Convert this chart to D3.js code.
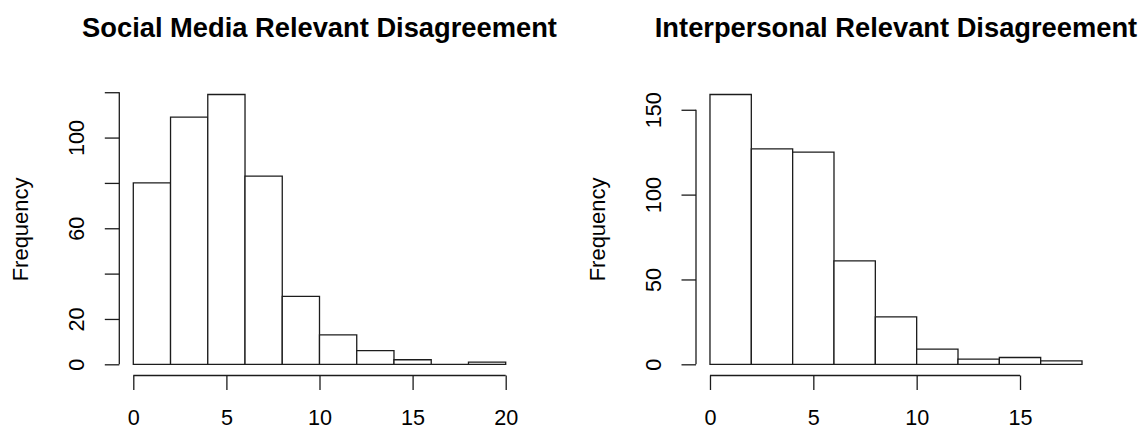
<!DOCTYPE html>
<html>
<head>
<meta charset="utf-8">
<script src="https://cdn.jsdelivr.net/npm/d3@7"></script>
<style>
  body { margin: 0; background: #fff; }
  svg { display: block; font-family: "Liberation Sans", Arial, sans-serif; }
  .tick text { font-size: 21.6px; fill: #000; }
</style>
</head>
<body>
<div id="hists"></div>
<script>

var width = 1148,
height = 429;

// histogram data
var socialBreaks = [0, 2, 4, 6, 8, 10, 12, 14, 16, 18, 20];
var socialCounts = [80, 109, 119, 83, 30, 13, 6, 2, 0, 1];
var socialXTicks = [0, 5, 10, 15, 20];
var socialYTicks = [0, 20, 40, 60, 80, 100, 120];
var socialYLabels = ["0", "20", "", "60", "", "100", ""];

var interBreaks = [0, 2, 4, 6, 8, 10, 12, 14, 16, 18];
var interCounts = [159, 127, 125, 61, 28, 9, 3, 4, 2];
var interXTicks = [0, 5, 10, 15];
var interYTicks = [0, 50, 100, 150];
var interYLabels = ["0", "50", "100", "150"];

var titles = ["Social Media Relevant Disagreement", "Interpersonal Relevant Disagreement"];

var line_colour = "#1c1c1c";
var line_width = 1.3;

var svg = d3.select("#hists")
.append("svg")
.attr("width", width)
.attr("height", height);

svg.append("rect")
.attr("width", width)
.attr("height", height)
.style("fill", "white");

var plotTop = 83.7,
plotBottom = 375.1;

drawHist({
  left: 118.4, right: 520.6,
  breaks: socialBreaks, counts: socialCounts,
  xTicks: socialXTicks, yTicks: socialYTicks, yLabels: socialYLabels,
  title: titles[0]
});

drawHist({
  left: 695.1, right: 1096.9,
  breaks: interBreaks, counts: interCounts,
  xTicks: interXTicks, yTicks: interYTicks, yLabels: interYLabels,
  title: titles[1]
});

function drawHist(p) {

  // R style: 4% padding on both ends of the range
  var lo = p.breaks[0], hi = p.breaks[p.breaks.length - 1];
  var pad = (hi - lo) * 0.04;
  var maxCount = d3.max(p.counts);

  var x = d3.scaleLinear()
  .domain([lo - pad, hi + pad])
  .range([p.left, p.right]);

  var y = d3.scaleLinear()
  .domain([-maxCount * 0.04, maxCount * 1.04])
  .range([plotBottom, plotTop]);

  var g = svg.append("g");

  var bins = p.counts.map(function(c, i) {
    return {x0: p.breaks[i], x1: p.breaks[i + 1], count: c};
  });

  // bars as closed paths so an empty bin still shows as a flat line
  g.selectAll("path.bar")
  .data(bins)
  .enter()
  .append("path")
  .attr("class", "bar")
  .attr("d", function(d) {
    var path = d3.path();
    path.rect(x(d.x0), y(d.count), x(d.x1) - x(d.x0), y(0) - y(d.count));
    return path.toString();
  })
  .style("fill", "white")
  .style("stroke", line_colour)
  .style("stroke-width", line_width);

  // x axis
  var xAxis = d3.axisBottom(x)
  .tickValues(p.xTicks)
  .tickSize(14.5)
  .tickFormat(d3.format("d"));

  var xg = g.append("g")
  .attr("transform", "translate(0," + (plotBottom + 0.4) + ")")
  .call(xAxis);
  xg.select(".domain").remove();
  xg.append("line")
  .attr("x1", x(p.xTicks[0]))
  .attr("x2", x(p.xTicks[p.xTicks.length - 1]));
  xg.selectAll("line")
  .attr("stroke", line_colour)
  .attr("stroke-width", line_width);
  xg.selectAll(".tick text")
  .attr("y", 49.5)
  .attr("dy", null);

  // y axis
  var yAxis = d3.axisLeft(y)
  .tickValues(p.yTicks)
  .tickSize(14.5)
  .tickFormat(function(d, i) { return p.yLabels[i]; });

  var yg = g.append("g")
  .attr("transform", "translate(" + (p.left + 0.9) + ",0)")
  .call(yAxis);
  yg.select(".domain").remove();
  yg.append("line")
  .attr("y1", y(p.yTicks[0]))
  .attr("y2", y(p.yTicks[p.yTicks.length - 1]));
  yg.selectAll("line")
  .attr("stroke", line_colour)
  .attr("stroke-width", line_width);
  yg.selectAll(".tick text")
  .attr("x", 0)
  .attr("y", 0)
  .attr("dy", null)
  .attr("text-anchor", "middle")
  .attr("transform", "translate(-35.5,0) rotate(-90)");

  // y label
  g.append("text")
  .attr("transform", "translate(" + (p.left - 90) + "," + ((plotTop + plotBottom) / 2) + ") rotate(-90)")
  .attr("text-anchor", "middle")
  .style("font-size", "22px")
  .text("Frequency");

  // title
  g.append("text")
  .attr("x", (p.left + p.right) / 2)
  .attr("y", 36.7)
  .attr("text-anchor", "middle")
  .style("font-size", "27.3px")
  .style("font-weight", "bold")
  .text(p.title);
}

</script>
</body>
</html>
